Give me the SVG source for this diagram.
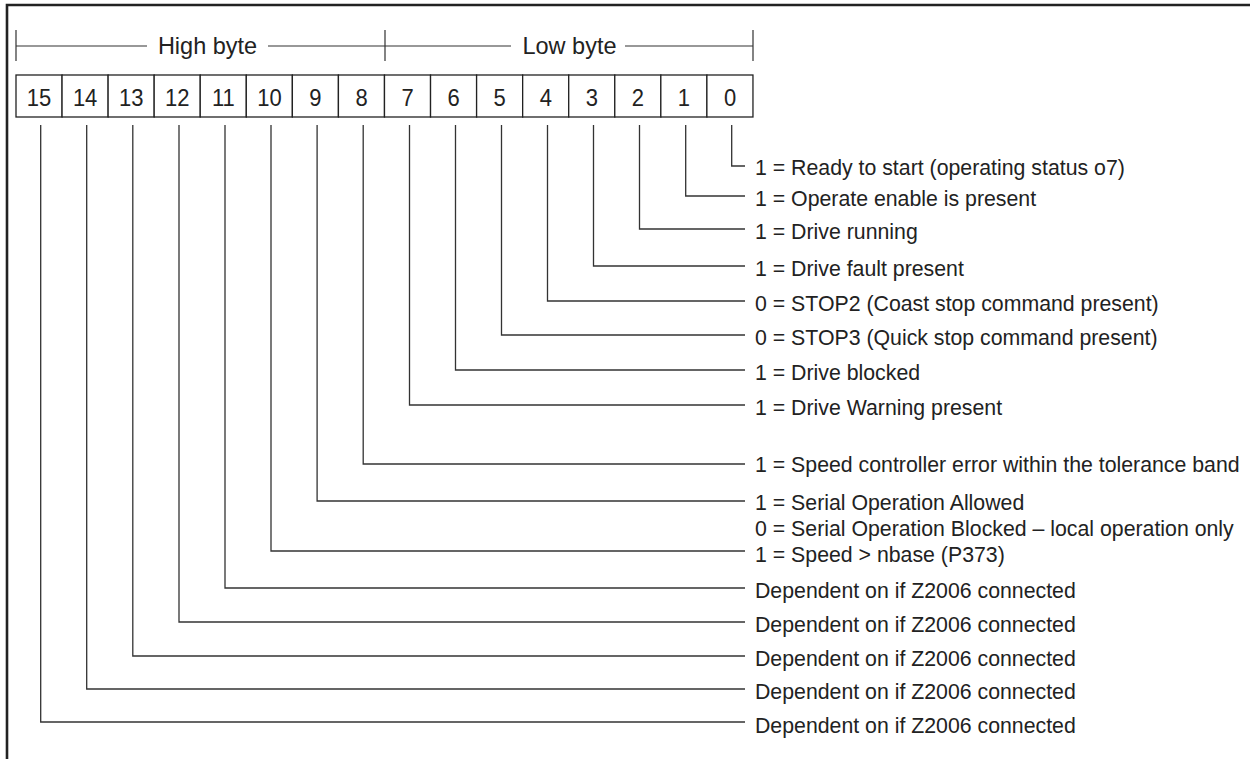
<svg xmlns="http://www.w3.org/2000/svg" width="1250" height="759" viewBox="0 0 1250 759">
<style>
.frame{fill:none;stroke:#222;stroke-width:2.6}
.cell{fill:#fff;stroke:#222;stroke-width:1.3}
.dim{fill:none;stroke:#333;stroke-width:1.2}
.conn{fill:none;stroke:#333;stroke-width:1.3}
.num{font-family:"Liberation Sans",Arial,sans-serif;font-size:22px;fill:#222;text-anchor:middle}
.hdr{font-family:"Liberation Sans",Arial,sans-serif;font-size:23.5px;fill:#222;text-anchor:middle}
.lbl{font-family:"Liberation Sans",Arial,sans-serif;font-size:21.3px;fill:#222}
</style>
<rect width="1250" height="759" fill="#fff"/>
<path class="frame" d="M7 759 V5 H1250"/>
<g id="header-high">
<path class="dim" d="M16 30 V61 M16 46 H147 M268 46 H385"/>
<text class="hdr" transform="translate(207.5 54) scale(1 1.05)">High byte</text>
</g>
<g id="header-low">
<path class="dim" d="M385 30 V61 M753 30 V61 M385 46 H511 M625 46 H753"/>
<text class="hdr" transform="translate(569.5 54) scale(1 1.05)">Low byte</text>
</g>
<g id="bit15"><rect class="cell" x="16" y="75" width="46.06" height="42"/><text class="num" transform="translate(39 106) scale(1 1.08)">15</text></g>
<g id="bit14"><rect class="cell" x="62.06" y="75" width="46.06" height="42"/><text class="num" transform="translate(85.1 106) scale(1 1.08)">14</text></g>
<g id="bit13"><rect class="cell" x="108.12" y="75" width="46.06" height="42"/><text class="num" transform="translate(131.2 106) scale(1 1.08)">13</text></g>
<g id="bit12"><rect class="cell" x="154.18" y="75" width="46.06" height="42"/><text class="num" transform="translate(177.2 106) scale(1 1.08)">12</text></g>
<g id="bit11"><rect class="cell" x="200.24" y="75" width="46.06" height="42"/><text class="num" transform="translate(223.3 106) scale(1 1.08)">11</text></g>
<g id="bit10"><rect class="cell" x="246.3" y="75" width="46.06" height="42"/><text class="num" transform="translate(269.4 106) scale(1 1.08)">10</text></g>
<g id="bit9"><rect class="cell" x="292.36" y="75" width="46.06" height="42"/><text class="num" transform="translate(315.4 106) scale(1 1.08)">9</text></g>
<g id="bit8"><rect class="cell" x="338.42" y="75" width="46.06" height="42"/><text class="num" transform="translate(361.5 106) scale(1 1.08)">8</text></g>
<g id="bit7"><rect class="cell" x="384.48" y="75" width="46.06" height="42"/><text class="num" transform="translate(407.6 106) scale(1 1.08)">7</text></g>
<g id="bit6"><rect class="cell" x="430.54" y="75" width="46.06" height="42"/><text class="num" transform="translate(453.7 106) scale(1 1.08)">6</text></g>
<g id="bit5"><rect class="cell" x="476.6" y="75" width="46.06" height="42"/><text class="num" transform="translate(499.7 106) scale(1 1.08)">5</text></g>
<g id="bit4"><rect class="cell" x="522.66" y="75" width="46.06" height="42"/><text class="num" transform="translate(545.8 106) scale(1 1.08)">4</text></g>
<g id="bit3"><rect class="cell" x="568.72" y="75" width="46.06" height="42"/><text class="num" transform="translate(591.8 106) scale(1 1.08)">3</text></g>
<g id="bit2"><rect class="cell" x="614.78" y="75" width="46.06" height="42"/><text class="num" transform="translate(637.9 106) scale(1 1.08)">2</text></g>
<g id="bit1"><rect class="cell" x="660.84" y="75" width="46.06" height="42"/><text class="num" transform="translate(683.9 106) scale(1 1.08)">1</text></g>
<g id="bit0"><rect class="cell" x="706.9" y="75" width="46.06" height="42"/><text class="num" transform="translate(730 106) scale(1 1.08)">0</text></g>
<g id="connectors">
<path class="conn" d="M731.7 125 V166 H745"/>
<path class="conn" d="M685.7 125 V196 H745"/>
<path class="conn" d="M639.5 125 V229 H745"/>
<path class="conn" d="M593.5 125 V266 H745"/>
<path class="conn" d="M547.5 125 V301 H745"/>
<path class="conn" d="M501.5 125 V335 H745"/>
<path class="conn" d="M455.5 125 V370 H745"/>
<path class="conn" d="M409.5 125 V405 H745"/>
<path class="conn" d="M363.2 125 V464 H745"/>
<path class="conn" d="M317.1 125 V501 H745"/>
<path class="conn" d="M271 125 V551 H745"/>
<path class="conn" d="M225 125 V588 H745"/>
<path class="conn" d="M179 125 V622 H745"/>
<path class="conn" d="M132.8 125 V656 H745"/>
<path class="conn" d="M86.7 125 V689 H745"/>
<path class="conn" d="M40.7 125 V722 H745"/>
</g>
<g id="label0"><text class="lbl" transform="translate(755 175) scale(1 1.05)">1 = Ready to start (operating status o7)</text></g>
<g id="label1"><text class="lbl" transform="translate(755 206) scale(1 1.05)">1 = Operate enable is present</text></g>
<g id="label2"><text class="lbl" transform="translate(755 239) scale(1 1.05)">1 = Drive running</text></g>
<g id="label3"><text class="lbl" transform="translate(755 276) scale(1 1.05)">1 = Drive fault present</text></g>
<g id="label4"><text class="lbl" transform="translate(755 311) scale(1 1.05)">0 = STOP2 (Coast stop command present)</text></g>
<g id="label5"><text class="lbl" transform="translate(755 345) scale(1 1.05)">0 = STOP3 (Quick stop command present)</text></g>
<g id="label6"><text class="lbl" transform="translate(755 380) scale(1 1.05)">1 = Drive blocked</text></g>
<g id="label7"><text class="lbl" transform="translate(755 415) scale(1 1.05)">1 = Drive Warning present</text></g>
<g id="label8"><text class="lbl" transform="translate(755 472) scale(1 1.05)">1 = Speed controller error within the tolerance band</text></g>
<g id="label9"><text class="lbl" transform="translate(755 510) scale(1 1.05)">1 = Serial Operation Allowed</text><text class="lbl" transform="translate(755 536) scale(1 1.05)">0 = Serial Operation Blocked – local operation only</text></g>
<g id="label10"><text class="lbl" transform="translate(755 562) scale(1 1.05)">1 = Speed &gt; nbase (P373)</text></g>
<g id="label11"><text class="lbl" transform="translate(755 598) scale(1 1.05)">Dependent on if Z2006 connected</text></g>
<g id="label12"><text class="lbl" transform="translate(755 632) scale(1 1.05)">Dependent on if Z2006 connected</text></g>
<g id="label13"><text class="lbl" transform="translate(755 666) scale(1 1.05)">Dependent on if Z2006 connected</text></g>
<g id="label14"><text class="lbl" transform="translate(755 699) scale(1 1.05)">Dependent on if Z2006 connected</text></g>
<g id="label15"><text class="lbl" transform="translate(755 733) scale(1 1.05)">Dependent on if Z2006 connected</text></g>
</svg>
